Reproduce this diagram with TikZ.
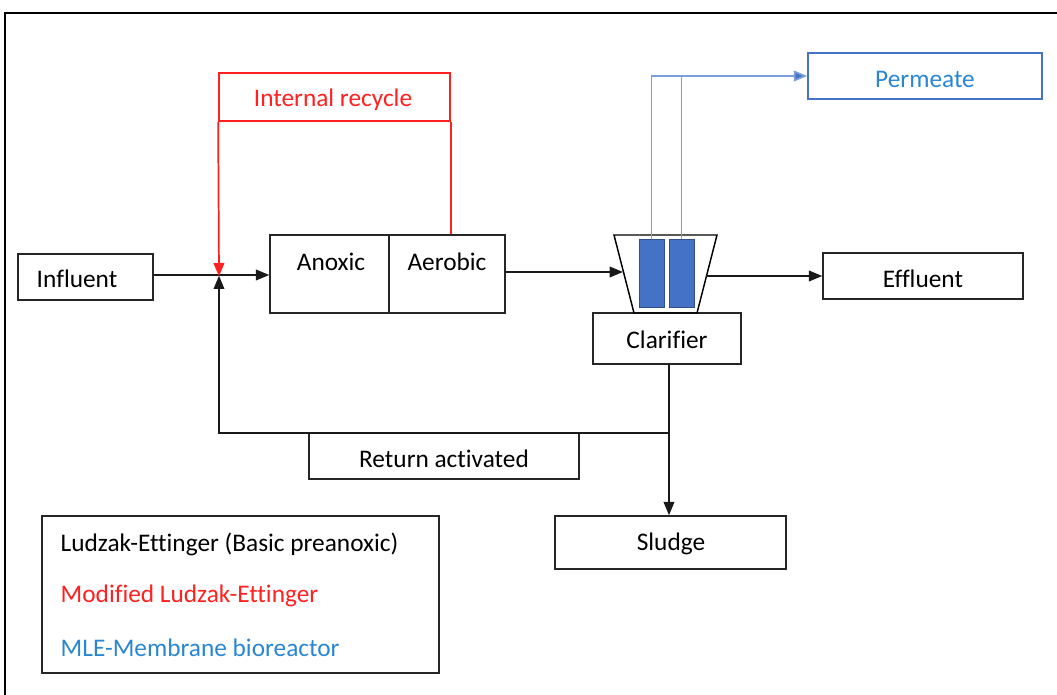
\documentclass[tikz,border=0pt]{standalone}
\usepackage{fontspec}
\setmainfont[Ligatures=NoCommon]{Carlito}
\usetikzlibrary{arrows.meta}
\definecolor{lineblue}{HTML}{7C9EDB}
\definecolor{memblue}{HTML}{4472C4}
\definecolor{txtblue}{HTML}{2A86D2}
\definecolor{myred}{HTML}{FF2020}
\tikzset{
  px/.style={x=0.75pt,y=-0.75pt},
  txt/.style={font=\fontsize{19}{22}\selectfont},
  box/.style={draw=black!85,line width=1.1pt,inner sep=0pt,txt},
  tip/.style={-{Triangle[length=10pt,width=8pt]}},
  flow/.style={line width=1.1pt,draw=black!90,tip},
  plain/.style={line width=1.1pt,draw=black!90},
  redline/.style={line width=1.3pt,draw=myred},
  blueline/.style={line width=1.3pt,draw=lineblue},
}
\begin{document}
\begin{tikzpicture}[px]
\useasboundingbox (0,0) rectangle (1057,695);
\begin{scope}
\clip (0,0) rectangle (1057,695);
\draw[line width=1.3pt] (5,13) rectangle (1070,710);
\end{scope}
% nodes as boxes
\node[box,minimum width=101.25pt,minimum height=34.5pt] (infl) at (85.5,277) {};
\node[txt] (inflt) at (77,279) {Influent};
\node[box,minimum width=89.25pt,minimum height=58.5pt] (anox) at (329.5,274) {};
\node[box,minimum width=87pt,minimum height=58.5pt] (aero) at (447,274) {};
\node[txt] (anoxt) at (331,262) {Anoxic};
\node[txt] (aerot) at (447,262) {Aerobic};
\node[box,minimum width=150pt,minimum height=34.5pt] (effl) at (923,276) {};
\node[txt] (efflt) at (923,279) {Effluent};
\node[box,minimum width=111pt,minimum height=38.25pt] (clar) at (667,338.5) {};
\node[txt] (clart) at (667,340) {Clarifier};
\node[box,minimum width=202.5pt,minimum height=34.5pt] (ret) at (444,456) {};
\node[txt] (rett) at (444,459) {Return activated};
\node[box,minimum width=173.25pt,minimum height=39.75pt] (sludge) at (670.5,542.5) {};
\node[txt] (sludget) at (671,544) {Sludge};
\node[box,draw=memblue,minimum width=175.5pt,minimum height=34.5pt] (perm) at (925,76) {};
\node[txt,text=txtblue] (permt) at (925,79) {Permeate};
\node[box,draw=myred,line width=1.3pt,minimum width=173.25pt,minimum height=36pt] (irc) at (334.5,97) {};
\node[txt,text=myred] (irct) at (333,100) {Internal recycle};
% legend
\node[box,minimum width=297.75pt,minimum height=117.75pt] (leg) at (240.5,594.5) {};
\node[txt,anchor=west] (l1) at (56,544) {Ludzak-Ettinger (Basic preanoxic)};
\node[txt,anchor=west,text=myred] (l2) at (56,596) {Modified Ludzak-Ettinger};
\node[txt,anchor=west,text=txtblue] (l3) at (56,648) {MLE-Membrane bioreactor};
% clarifier trapezoid and membranes
\draw[line width=1.1pt] (614,235) -- (717,235) -- (697,313) -- (634,313) -- cycle;
\coordinate (clin) at (623,274);
\coordinate (clout) at (706,276);
\node[fill=memblue,draw=memblue!70!black,line width=0.4pt,minimum width=18.75pt,minimum height=51pt,inner sep=0pt] (m1) at (651.5,273) {};
\node[fill=memblue,draw=memblue!70!black,line width=0.4pt,minimum width=18.75pt,minimum height=51pt,inner sep=0pt] (m2) at (681.5,273) {};
% junction
\coordinate (j) at (219,275);
\coordinate (rc) at (669,433);
\coordinate (rl) at (219,433);
% flows
\draw[plain] (infl.east |- j) -- (j);
\draw[flow] (j) -- (anox.west |- j);
\draw[flow] (aero.east |- 0,272) -- (clin |- 0,272);
\draw[flow] (clout) -- (effl.west |- clout);
\draw[plain] (clar.south -| rc) -- (rc);
\draw[flow] (rc) -- (sludge.north -| rc);
\draw[flow] (rc) -- (rl) -- ([yshift=-0.5pt]j);
% internal recycle
\draw[redline] (irc.south east) -- (aero.north -| irc.south east);
\draw[redline,tip] (irc.south west) -- ([yshift=-1pt]j);
% permeate lines
\draw[blueline,-{Triangle[length=10pt,width=8pt,fill=memblue]}] (m1.north) -- (m1.north |- perm.west) -- (perm.west);
\draw[blueline] (m2.north) -- (m2.north |- perm.west);
\end{tikzpicture}
\end{document}
